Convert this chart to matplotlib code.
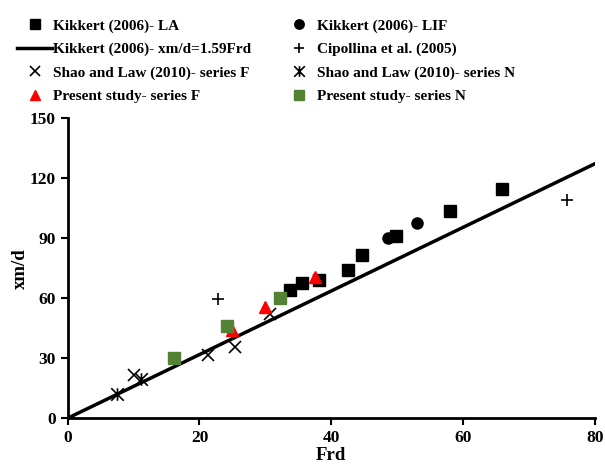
import numpy as np
import matplotlib.pyplot as plt
from matplotlib.path import Path

plt.rcParams['font.family'] = ['Liberation Serif', 'DejaVu Serif']
plt.rcParams['font.weight'] = 'bold'

# Kikkert (2006) - LA
la_x = [33.7, 35.6, 38.1, 42.6, 44.6, 49.9, 58.0, 65.9]
la_y = [64.0, 67.7, 69.0, 74.0, 81.5, 91.0, 103.5, 114.5]
# Kikkert (2006) - LIF
lif_x = [48.6, 53.0]
lif_y = [90.0, 97.6]
# Cipollina et al. (2005)
cip_x = [22.8, 75.8]
cip_y = [59.8, 109.0]
# Shao and Law (2010)
shao_f_x = [10.0, 21.3, 25.4, 30.7]
shao_f_y = [21.8, 31.5, 35.7, 52.0]
shao_n_x = [7.5, 11.1]
shao_n_y = [12.3, 19.8]
# Present study
pres_f_x = [25.0, 30.0, 37.5]
pres_f_y = [44.3, 55.7, 70.7]
pres_n_x = [16.1, 24.1, 32.2]
pres_n_y = [30.0, 46.0, 60.0]

# xm/d = 1.59 Frd
slope = 1.59
frd_line = np.array([0, 80])

# x with a vertical bar through it
star = Path([(-1, -1), (1, 1), (-1, 1), (1, -1), (0, -1), (0, 1)],
            [Path.MOVETO, Path.LINETO] * 3)

fig = plt.figure(figsize=(6.05, 4.73), dpi=100)
ax = fig.add_axes([0.112, 0.116, 0.871, 0.634])

h_la, = ax.plot(la_x, la_y, 's', color='black', ms=8, ls='none')
h_line, = ax.plot(frd_line, slope * frd_line, '-', color='black', lw=2.5)
h_shf, = ax.plot(shao_f_x, shao_f_y, 'x', color='black', ms=9, mew=1.2, ls='none')
h_prf, = ax.plot(pres_f_x, pres_f_y, '^', color='#ff0000', ms=8, ls='none')
h_lif, = ax.plot(lif_x, lif_y, 'o', color='black', ms=8, ls='none')
h_cip, = ax.plot(cip_x, cip_y, '+', color='black', ms=9, mew=1.2, ls='none')
h_shn, = ax.plot(shao_n_x, shao_n_y, marker=star, color='black', ms=9, mew=1.2, ls='none')
h_prn, = ax.plot(pres_n_x, pres_n_y, 's', color='#548235', ms=8, ls='none')

ax.set_xlim(0, 80)
ax.set_ylim(0, 150)
ax.set_xticks(range(0, 81, 20))
ax.set_yticks(range(0, 151, 30))
ax.spines['top'].set_visible(False)
ax.spines['right'].set_visible(False)
ax.spines['left'].set_linewidth(2)
ax.spines['bottom'].set_linewidth(2)
ax.tick_params(direction='out', width=1.5, length=5, labelsize=12.5)
ax.set_xlabel('Frd', fontsize=13.5, fontweight='bold', labelpad=1)
ax.set_ylabel('xm/d', fontsize=13.5, fontweight='bold', labelpad=1)

handles = [h_la, h_line, h_shf, h_prf, h_lif, h_cip, h_shn, h_prn]
labels = ['Kikkert (2006)- LA', 'Kikkert (2006)- xm/d=1.59Frd',
          'Shao and Law (2010)- series F', 'Present study- series F',
          'Kikkert (2006)- LIF', 'Cipollina et al. (2005)',
          'Shao and Law (2010)- series N', 'Present study- series N']
fig.legend(handles, labels, ncol=2, loc='upper left', bbox_to_anchor=(0.028, 0.96),
           frameon=False, fontsize=11, handlelength=2.3, handletextpad=0.05,
           labelspacing=0.63, columnspacing=2.0, markerscale=0.85, borderpad=0,
           borderaxespad=0)

fig.savefig('out.png', dpi=100)
